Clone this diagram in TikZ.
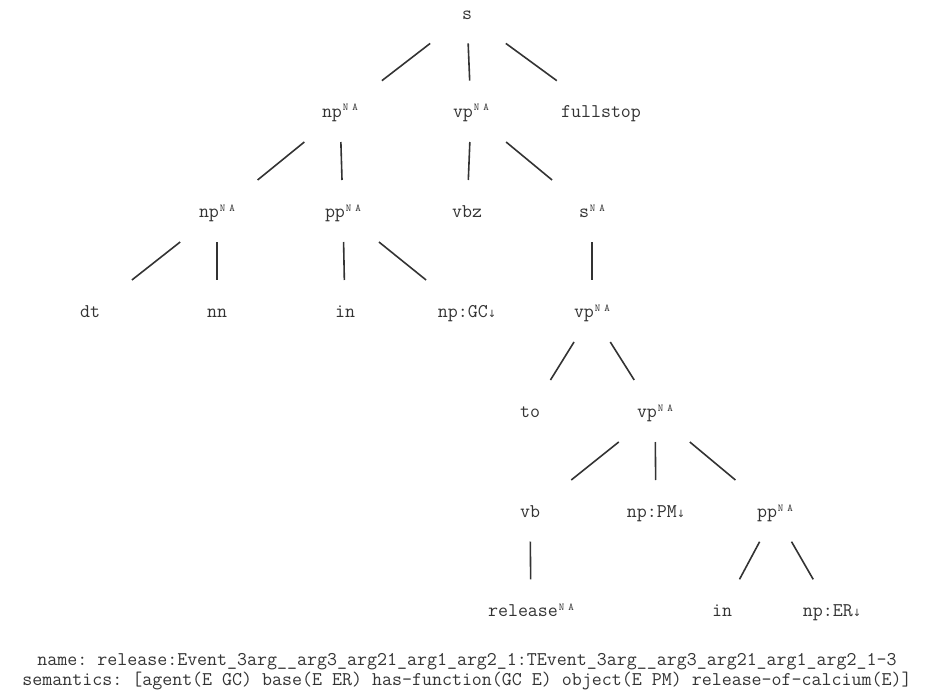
\documentclass[tikz,border=0pt]{standalone}
\usepackage{fontspec}
\newfontfamily\arrowfont{DejaVu Sans}
\usetikzlibrary{calc}
\newcommand{\NAsup}{\kern1pt\raisebox{6.5pt}{\fontsize{10.5}{10.5}\selectfont N\kern4pt A}}
\newcommand{\dnarrow}{{\arrowfont\fontsize{10}{10}\selectfont ↓}}
\newcommand{\treeedge}[2]{\draw[edge] ($(#1)!0.29!(#2)$) -- ($(#1)!0.67!(#2)$);}
\begin{document}
\frenchspacing
\begin{tikzpicture}[x=1pt,y=-1pt,
  lbl/.style={inner sep=0pt, font=\ttfamily\fontsize{19.4}{19.4}\selectfont, text=black!80, text height=12pt, text depth=3pt, anchor=center},
  edge/.style={line width=1.6pt, draw=black!80}]
\useasboundingbox (0,0) rectangle (933,695);
% level 0
\node[lbl] (s) at (467,15) {s};
% level 1
\node[lbl] (np1) at (340,113) {np\NAsup};
\node[lbl] (vp1) at (471,113) {vp\NAsup};
\node[lbl] (fs) at (601,113) {fullstop};
% level 2
\node[lbl] (np2) at (217,213) {np\NAsup};
\node[lbl] (pp2) at (343,213) {pp\NAsup};
\node[lbl] (vbz) at (467,213) {vbz};
\node[lbl] (s2) at (592,213) {s\NAsup};
% level 3
\node[lbl] (dt) at (90,313) {dt};
\node[lbl] (nn) at (217,313) {nn};
\node[lbl] (in3) at (345,313) {in};
\node[lbl] (npgc) at (467,313) {np:GC\dnarrow};
\node[lbl] (vp3) at (592,313) {vp\NAsup};
% level 4
\node[lbl] (to) at (530,413) {to};
\node[lbl] (vp4) at (655,413) {vp\NAsup};
% level 5
\node[lbl] (vb) at (530,513) {vb};
\node[lbl] (nppm) at (656,513) {np:PM\dnarrow};
\node[lbl] (pp5) at (775,513) {pp\NAsup};
% level 6
\node[lbl] (rel) at (531,612) {release\NAsup};
\node[lbl] (in6) at (722,612) {in};
\node[lbl] (nper) at (832,612) {np:ER\dnarrow};
% edges
\treeedge{s}{np1}
\treeedge{s}{vp1}
\treeedge{s}{fs}
\treeedge{np1}{np2}
\treeedge{np1}{pp2}
\treeedge{vp1}{vbz}
\treeedge{vp1}{s2}
\treeedge{np2}{dt}
\treeedge{np2}{nn}
\treeedge{pp2}{in3}
\treeedge{pp2}{npgc}
\treeedge{s2}{vp3}
\treeedge{vp3}{to}
\treeedge{vp3}{vp4}
\treeedge{vp4}{vb}
\treeedge{vp4}{nppm}
\treeedge{vp4}{pp5}
\treeedge{vb}{rel}
\treeedge{pp5}{in6}
\treeedge{pp5}{nper}
% bottom text
\node[lbl] (name) at (467,661) {name: release:Event\_3arg\_\_arg3\_arg21\_arg1\_arg2\_1:TEvent\_3arg\_\_arg3\_arg21\_arg1\_arg2\_1-3};
\node[lbl] (sem) at (467,681) {semantics: [agent(E GC) base(E ER) has-function(GC E) object(E PM) release-of-calcium(E)]};
\end{tikzpicture}
\end{document}
